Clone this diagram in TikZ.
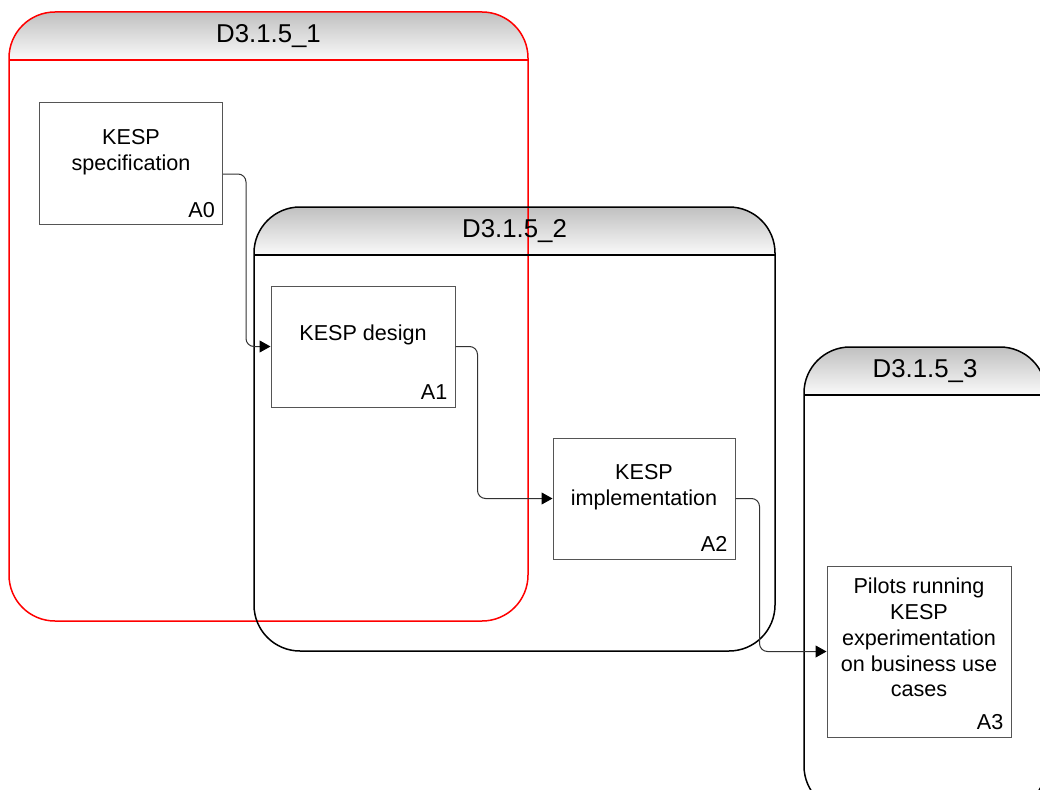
\documentclass[tikz,border=0pt]{standalone}
\usepackage{fontspec}
\setmainfont{Liberation Sans}
\usetikzlibrary{arrows.meta}

\definecolor{hdtop}{RGB}{192,192,192}
\definecolor{hdbot}{RGB}{250,250,250}
\definecolor{boxline}{RGB}{85,85,85}
\definecolor{flowline}{RGB}{50,50,50}
\definecolor{poolred}{RGB}{255,0,0}

\begin{document}
\begin{tikzpicture}[x=1pt,y=-1pt,
  hdshade/.style={top color=hdtop,bottom color=hdbot},
  pool/.style={line width=1.5pt,rounded corners=46pt},
  pooltitle/.style={font=\fontsize{25.8}{30}\selectfont,inner sep=0pt},
  actbox/.style={draw=boxline,line width=1pt,fill=white,rectangle,inner sep=0pt},
  acttext/.style={font=\fontsize{21.6}{25.8}\selectfont,align=center,inner sep=0pt},
  acttag/.style={font=\fontsize{21.6}{25}\selectfont,inner sep=0pt,anchor=south east,xshift=-8pt,yshift=7.5pt},
  flow/.style={draw=flowline,line width=1pt,rounded corners=8pt,-{Triangle[length=11pt,width=12pt,color=black]}}
]
\useasboundingbox (0,0) rectangle (1040,789);
\clip (0,0) rectangle (1040,789);

% header bands (shaded, rounded top corners)
\shade[hdshade] (9,60) -- (9,58) arc[start angle=180,end angle=270,radius=46]
  -- (482,12) arc[start angle=270,end angle=360,radius=46] -- (528,60) -- cycle;
\shade[hdshade] (254,255) -- (254,253) arc[start angle=180,end angle=270,radius=46]
  -- (729,207) arc[start angle=270,end angle=360,radius=46] -- (775,255) -- cycle;
\shade[hdshade] (804,395) -- (804,393) arc[start angle=180,end angle=270,radius=46]
  -- (1000,347) arc[start angle=270,end angle=360,radius=46] -- (1046,395) -- cycle;

% pool D3.1.5_1
\draw[pool,draw=poolred] (9,12) rectangle (528,621);
\draw[line width=1.5pt,poolred] (9,60) -- (528,60);
\node[pooltitle] (t1) at (268.5,36) {D3.1.5\_1};

% pool D3.1.5_2
\draw[pool,draw=black] (254,207) rectangle (775,651);
\draw[line width=1.5pt,black] (254,255) -- (775,255);
\node[pooltitle] (t2) at (514.5,231) {D3.1.5\_2};

% pool D3.1.5_3
\draw[pool,draw=black] (804,347) rectangle (1046,812);
\draw[line width=1.5pt,black] (804,395) -- (1046,395);
\node[pooltitle] (t3) at (925,371) {D3.1.5\_3};

% activities
\node[actbox,minimum width=183pt,minimum height=122pt] (a0) at (131,163.5) {};
\node[acttext] (a0t) at ([yshift=11.5pt]a0.center) {KESP\\specification};
\node[acttag] (a0n) at (a0.south east) {A0};

\node[actbox,minimum width=184pt,minimum height=121pt] (a1) at (363,346.5) {};
\node[acttext] (a1t) at ([yshift=11.5pt]a1.center) {KESP design};
\node[acttag] (a1n) at (a1.south east) {A1};

\node[actbox,minimum width=182pt,minimum height=121pt] (a2) at (644,498.5) {};
\node[acttext] (a2t) at ([yshift=11.5pt]a2.center) {KESP\\implementation};
\node[acttag] (a2n) at (a2.south east) {A2};

\node[actbox,minimum width=184pt,minimum height=171pt] (a3) at (919,651.5) {};
\node[acttext] (a3t) at ([yshift=14pt]a3.center) {Pilots running\\KESP\\experimentation\\on business use\\cases};
\node[acttag] (a3n) at (a3.south east) {A3};

% flows
\draw[flow] ([yshift=-10.5pt]a0.east) -- ++(23,0) |- (a1.west);
\draw[flow] (a1.east) -- ++(22,0) |- (a2.west);
\draw[flow] (a2.east) -- ++(24,0) |- (a3.west);
\end{tikzpicture}
\end{document}
